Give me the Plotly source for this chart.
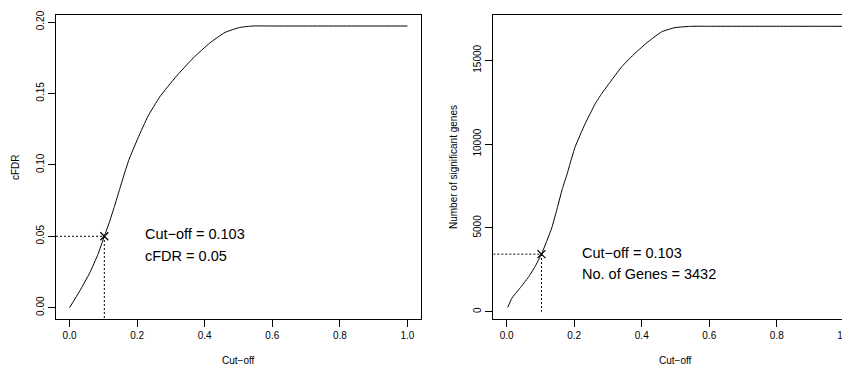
import plotly.graph_objects as go

# ---------------- data ----------------
cutoff_left = [0.0, 0.03, 0.06, 0.084, 0.103, 0.119, 0.133, 0.148, 0.163, 0.176,
               0.203, 0.232, 0.267, 0.316, 0.366, 0.415, 0.46, 0.504, 0.543, 0.6,
               0.7, 0.8, 0.9, 1.0]
cfdr = [0.0, 0.0116, 0.0245, 0.0373, 0.05, 0.0606, 0.071, 0.0827, 0.0944, 0.1037,
        0.119, 0.134, 0.1476, 0.162, 0.1748, 0.1853, 0.1927, 0.1962, 0.1972, 0.1972,
        0.1972, 0.1972, 0.1972, 0.1972]

cutoff_right = [0.003, 0.015, 0.039, 0.064, 0.084, 0.103, 0.118, 0.1335, 0.150, 0.165,
                0.178, 0.19, 0.203, 0.232, 0.262, 0.281, 0.301, 0.341, 0.38, 0.419,
                0.459, 0.4985, 0.548, 0.6, 0.7, 0.8, 0.9, 1.0]
n_genes = [250, 800, 1400, 2050, 2690, 3432, 4180, 5000, 6200, 7350,
           8150, 9000, 9850, 11200, 12400, 13000, 13550, 14620, 15420, 16110,
           16700, 16950, 17030, 17030, 17030, 17030, 17030, 17030]

cut_point = 0.103
cfdr_point = 0.05
genes_point = 3432

x_ticks = [0.0, 0.2, 0.4, 0.6, 0.8, 1.0]
x_ticktext = ["0.0", "0.2", "0.4", "0.6", "0.8", "1.0"]
yl_ticks = [0.0, 0.05, 0.10, 0.15, 0.20]
yl_ticktext = ["0.00", "0.05", "0.10", "0.15", "0.20"]
yr_ticks = [0, 5000, 10000, 15000]
yr_ticktext = ["0", "5000", "10000", "15000"]

left_text = ["Cut\u2212off = 0.103", "cFDR = 0.05"]
right_text = ["Cut\u2212off = 0.103", "No. of Genes = 3432"]

# ---------------- layout geometry ----------------
# the page body adds an 8px margin; the figure is sized so that it fills the window
OFF = 8
WIN_W, WIN_H = 850, 365
W, H = WIN_W - OFF, WIN_H - OFF

def fx(pix):          # window pixel -> figure pixel (x)
    return pix - OFF

def fy(pix):          # window pixel -> figure pixel (y)
    return pix - OFF

BOX_TOP, BOX_BOT = 15, 319
M_T = fy(BOX_TOP)
M_B = H - fy(BOX_BOT)
plot_h = H - M_T - M_B

xl_range = [-0.04, 1.04]
yl_range = [-0.0079, 0.2049]
xr_range = [-0.0397, 1.0169]
yr_range = [-436, 17703]

FONT = "Liberation Sans, Arial, Helvetica, sans-serif"
BLACK = "black"

fig = go.Figure()

# left panel
fig.add_trace(go.Scatter(x=cutoff_left, y=cfdr, mode="lines",
                         line=dict(color=BLACK, width=1, shape="spline", smoothing=0.4),
                         xaxis="x", yaxis="y", showlegend=False, hoverinfo="skip"))
fig.add_trace(go.Scatter(x=[xl_range[0], cut_point, cut_point],
                         y=[cfdr_point, cfdr_point, yl_range[0]], mode="lines",
                         line=dict(color=BLACK, width=1, dash="2px,2px"),
                         xaxis="x", yaxis="y", showlegend=False, hoverinfo="skip"))
fig.add_trace(go.Scatter(x=[cut_point], y=[cfdr_point], mode="markers",
                         marker=dict(symbol="x-thin", size=8, line=dict(color=BLACK, width=1.2)),
                         xaxis="x", yaxis="y", showlegend=False))

# right panel
fig.add_trace(go.Scatter(x=cutoff_right, y=n_genes, mode="lines",
                         line=dict(color=BLACK, width=1, shape="spline", smoothing=0.4),
                         xaxis="x2", yaxis="y2", showlegend=False, hoverinfo="skip"))
fig.add_trace(go.Scatter(x=[xr_range[0], cut_point, cut_point],
                         y=[genes_point, genes_point, 0], mode="lines",
                         line=dict(color=BLACK, width=1, dash="2px,2px"),
                         xaxis="x2", yaxis="y2", showlegend=False, hoverinfo="skip"))
fig.add_trace(go.Scatter(x=[cut_point], y=[genes_point], mode="markers",
                         marker=dict(symbol="x-thin", size=8, line=dict(color=BLACK, width=1.2)),
                         xaxis="x2", yaxis="y2", showlegend=False))

tickfont = dict(family=FONT, size=10, color=BLACK)
common_x = dict(ticks="outside", ticklen=7, tickwidth=1, tickcolor=BLACK,
                showline=True, linecolor=BLACK, linewidth=1, showgrid=False,
                zeroline=False, tickfont=tickfont, tickvals=x_ticks, ticktext=x_ticktext,
                automargin=False, ticklabeloverflow="allow")
common_y = dict(ticks="outside", ticklen=7, tickwidth=1, tickcolor=BLACK,
                showline=True, linecolor=BLACK, linewidth=1, showgrid=False,
                zeroline=False, tickfont=tickfont, tickangle=-90, automargin=False,
                ticklabeloverflow="allow")

fig.update_layout(
    template="none",
    width=W, height=H,
    margin=dict(l=0, r=0, t=M_T, b=M_B, pad=0, autoexpand=False),
    paper_bgcolor="white", plot_bgcolor="white",
    font=dict(family=FONT, color=BLACK),
    xaxis=dict(domain=[fx(56) / W, fx(421) / W], range=xl_range, mirror=True, anchor="y", **common_x),
    yaxis=dict(domain=[0, 1], range=yl_range, mirror=True, anchor="x",
               tickvals=yl_ticks, ticktext=yl_ticktext, **common_y),
    xaxis2=dict(domain=[fx(493.3) / W, 1.0], range=xr_range, mirror=True, anchor="y2", **common_x),
    yaxis2=dict(domain=[0, 1], range=yr_range, mirror=False, anchor="x2",
                tickvals=yr_ticks, ticktext=yr_ticktext, **common_y),
)

def px(pix):
    return fx(pix) / W

def py(pix):
    return (H - M_B - fy(pix)) / plot_h

annots = []
# axis titles
annots.append(dict(text="Cut\u2212off", xref="paper", yref="paper", x=px((56 + 421) / 2),
                   y=py(360), xanchor="center", yanchor="middle", showarrow=False,
                   font=dict(family=FONT, size=10, color=BLACK)))
annots.append(dict(text="Cut\u2212off", xref="paper", yref="paper", x=px((493.3 + 858) / 2),
                   y=py(360), xanchor="center", yanchor="middle", showarrow=False,
                   font=dict(family=FONT, size=10, color=BLACK)))
annots.append(dict(text="cFDR", xref="paper", yref="paper", x=px(15), y=py(167),
                   xanchor="center", yanchor="middle", textangle=-90, showarrow=False,
                   font=dict(family=FONT, size=10, color=BLACK)))
annots.append(dict(text="Number of significant genes", xref="paper", yref="paper",
                   x=px(453), y=py(167), xanchor="center", yanchor="middle", textangle=-90,
                   showarrow=False, font=dict(family=FONT, size=10, color=BLACK)))
# in-plot text
annots.append(dict(text=left_text[0], xref="x", yref="y", x=0.2166, y=0.0513,
                   xanchor="left", yanchor="middle", showarrow=False,
                   font=dict(family=FONT, size=14.5, color=BLACK)))
annots.append(dict(text=left_text[1], xref="x", yref="y", x=0.2166, y=0.036,
                   xanchor="left", yanchor="middle", showarrow=False,
                   font=dict(family=FONT, size=14.5, color=BLACK)))
annots.append(dict(text=right_text[0], xref="x2", yref="y2", x=0.217, y=3484,
                   xanchor="left", yanchor="middle", showarrow=False,
                   font=dict(family=FONT, size=14.5, color=BLACK)))
annots.append(dict(text=right_text[1], xref="x2", yref="y2", x=0.217, y=2231,
                   xanchor="left", yanchor="middle", showarrow=False,
                   font=dict(family=FONT, size=14.5, color=BLACK)))
fig.update_layout(annotations=annots)

fig.write_html("out.html")
